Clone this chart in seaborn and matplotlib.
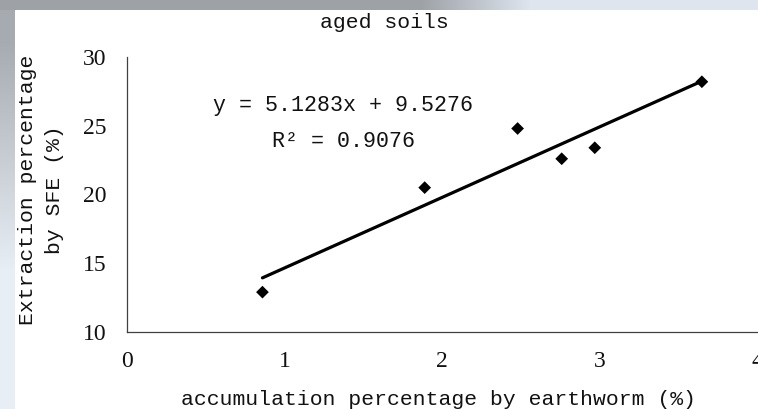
import numpy as np
import pandas as pd
import matplotlib
matplotlib.use("Agg")
import matplotlib.pyplot as plt
import seaborn as sns

# Earthworm accumulation vs SFE extraction, aged soils
accumulation = [0.86, 1.89, 2.48, 2.76, 2.97, 3.65]
extraction = [12.9, 20.5, 24.8, 22.6, 23.4, 28.2]
slope = 5.1283
intercept = 9.5276
r_squared = 0.9076
x_ticks = [0, 1, 2, 3, 4]
y_ticks = [10, 15, 20, 25, 30]

df = pd.DataFrame({"acc": accumulation, "ext": extraction})
x_fit = [min(accumulation), max(accumulation)]
fit = pd.DataFrame({"acc": x_fit, "ext": [slope * v + intercept for v in x_fit]})

sns.set_style("white")
plt.rcParams["font.family"] = ["Liberation Mono", "DejaVu Sans Mono"]

W, H = 758, 409
fig = plt.figure(figsize=(W / 100, H / 100), dpi=100, facecolor="white")

# window-like frame: grey band at the top, fading band on the left
bg = np.ones((H, W, 3))
xs = np.arange(W)
t = np.clip((xs - 420) / 110.0, 0, 1)[:, None]
top_col = np.array([158, 162, 167]) / 255 * (1 - t) + np.array([222, 229, 238]) / 255 * t
bg[0:10, :, :] = top_col[None, :, :]
ys = np.arange(H)
tv = np.clip((ys - 40) / 230.0, 0, 1)[:, None]
left_col = np.array([166, 171, 177]) / 255 * (1 - tv) + np.array([232, 238, 245]) / 255 * tv
bg[10:, 0:15, :] = left_col[10:, None, :]
bax = fig.add_axes([0, 0, 1, 1], zorder=-10)
bax.imshow(bg, aspect="auto", interpolation="bilinear")
bax.set_axis_off()

ax = fig.add_axes([127 / W, 1 - 332 / H, 630 / W, 275 / H])
ax.set_facecolor("none")

sns.lineplot(data=fit, x="acc", y="ext", ax=ax, color="black", linewidth=2.3)
sns.scatterplot(data=df, x="acc", y="ext", ax=ax, marker="D", s=42,
                color="black", edgecolor="none", zorder=3)

ax.set_xlim(0, 4)
ax.set_ylim(10, 30)
ax.set_xticks(x_ticks)
ax.set_yticks(y_ticks)
ax.set_xticklabels([str(v) for v in x_ticks])
ax.set_yticklabels([str(v) for v in y_ticks])

for side in ["top", "right"]:
    ax.spines[side].set_visible(False)
for side in ["left", "bottom"]:
    ax.spines[side].set_color("#404040")
    ax.spines[side].set_linewidth(0.9)

ax.tick_params(axis="both", direction="in", length=4.5, width=0.8,
               color="#404040", labelcolor="#111111")
ax.tick_params(axis="x", pad=14)
ax.tick_params(axis="y", pad=15)
for lab in ax.get_xticklabels() + ax.get_yticklabels():
    lab.set_fontfamily("Liberation Serif")
    lab.set_fontsize(17)

ax.set_xlabel("accumulation percentage by earthworm (%)", fontsize=15.4, color="#111111")
ax.xaxis.set_label_coords((438.5 - 127) / 630, (332 - 405) / 275)
ax.xaxis.label.set_va("baseline")

ax.set_ylabel("Extraction percentage\nby SFE (%)", fontsize=15.4, color="#111111",
              linespacing=1.5)
ax.yaxis.set_label_coords((41 - 127) / 630, (332 - 190) / 275)
ax.yaxis.label.set_va("center")

ax.set_title("aged soils", fontsize=15.4, color="#111111", pad=0,
             x=(384 - 127) / 630, y=(332 - 28) / 275, va="baseline")

ax.text((343 - 127) / 630, (332 - 111) / 275,
        f"y = {slope:.4f}x + {intercept:.4f}",
        transform=ax.transAxes, ha="center", va="baseline",
        fontsize=15.6, color="#111111")
ax.text((343 - 127) / 630, (332 - 147) / 275,
        f"R² = {r_squared:.4f}",
        transform=ax.transAxes, ha="center", va="baseline",
        fontsize=15.6, color="#111111")

fig.savefig("out.png", dpi=100, facecolor="white")
